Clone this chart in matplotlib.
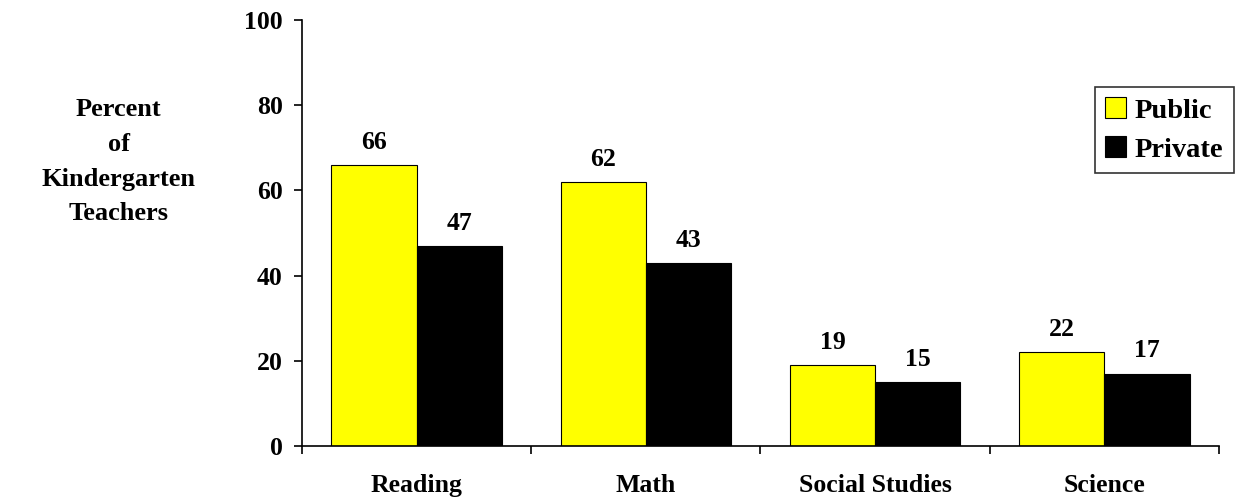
import matplotlib.pyplot as plt
import numpy as np

categories = ["Reading", "Math", "Social Studies", "Science"]
public = [66, 62, 19, 22]
private = [47, 43, 15, 17]
yticks = [0, 20, 40, 60, 80, 100]

plt.rcParams['font.family'] = ['Liberation Serif', 'DejaVu Serif']
plt.rcParams['font.weight'] = 'bold'

fig = plt.figure(figsize=(12.36, 4.99), dpi=100)
ax = fig.add_axes([0.2443, 0.1062, 0.7419, 0.8537])

x = np.arange(len(categories))
w = 0.372
b1 = ax.bar(x - w / 2, public, w, color='#FFFF00', edgecolor='black', linewidth=0.8, label='Public')
b2 = ax.bar(x + w / 2, private, w, color='black', edgecolor='black', linewidth=0.8, label='Private')

for bars, vals in [(b1, public), (b2, private)]:
    for r, v in zip(bars, vals):
        ax.annotate(str(v), (r.get_x() + r.get_width() / 2, v), xytext=(0, 8),
                    textcoords='offset points', ha='center', va='bottom',
                    fontsize=18.5, fontweight='bold')

ax.set_xlim(-0.5, 3.5)
ax.set_ylim(0, 100)
ax.set_yticks(yticks)
ax.set_yticklabels([str(t) for t in yticks], fontsize=18.5, fontweight='bold')
ax.set_xticks(x)
ax.set_xticklabels(categories, fontsize=18.5, fontweight='bold')
ax.tick_params(axis='x', length=0, pad=20)
ax.set_xticks([-0.5, 0.5, 1.5, 2.5, 3.5], minor=True)
ax.tick_params(axis='x', which='minor', length=6, width=1.2)
ax.tick_params(axis='y', length=6, width=1.2, pad=8)
for s in ['top', 'right']:
    ax.spines[s].set_visible(False)
for s in ['left', 'bottom']:
    ax.spines[s].set_linewidth(1.2)

ax.text(-0.2, 0.667, "Percent\nof\nKindergarten\nTeachers", transform=ax.transAxes,
        ha='center', va='center', fontsize=19, fontweight='bold', linespacing=1.65)

leg = ax.legend(loc='upper right', bbox_to_anchor=(1.016, 0.842), fontsize=20.5,
                frameon=True, fancybox=False, edgecolor='black', handlelength=0.75,
                handleheight=0.75, handletextpad=0.3, borderpad=0.35, labelspacing=0.45,
                borderaxespad=0)
leg.get_frame().set_linewidth(1.2)

fig.savefig("out.png", dpi=100)
